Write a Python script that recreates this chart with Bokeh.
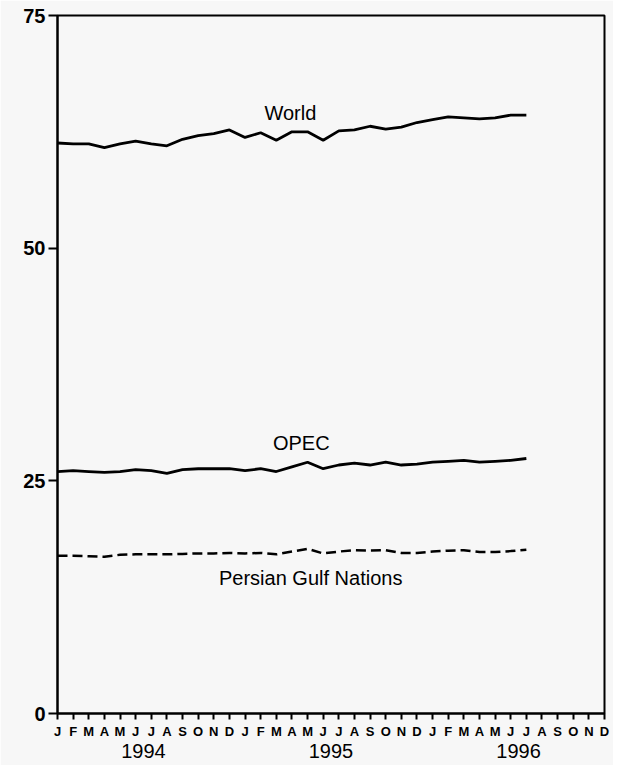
from bokeh.plotting import figure
from bokeh.models import FixedTicker, LinearAxis, Range1d, Label
from bokeh.embed import file_html
from bokeh.resources import INLINE

# Month index 0 = Jan 1994 ... 35 = Dec 1996
month_letters = ["J", "F", "M", "A", "M", "J", "J", "A", "S", "O", "N", "D"] * 3
years = ["1994", "1995", "1996"]
year_centers = [5.5, 17.5, 29.5]
y_ticks = [0, 25, 50, 75]

# Jan 1994 - Jul 1996 (31 months), million barrels per day
world = [61.3, 61.2, 61.2, 60.8, 61.2, 61.5, 61.2, 61.0, 61.7, 62.1, 62.3, 62.7,
         61.9, 62.4, 61.6, 62.5, 62.5, 61.6, 62.6, 62.7, 63.1, 62.8, 63.0, 63.5,
         63.8, 64.1, 64.0, 63.9, 64.0, 64.3, 64.3]
opec = [26.0, 26.1, 26.0, 25.9, 26.0, 26.2, 26.1, 25.8, 26.2, 26.3, 26.3, 26.3,
        26.1, 26.3, 26.0, 26.5, 27.0, 26.3, 26.7, 26.9, 26.7, 27.0, 26.7, 26.8,
        27.0, 27.1, 27.2, 27.0, 27.1, 27.2, 27.4]
gulf = [16.95, 16.95, 16.9, 16.85, 17.05, 17.1, 17.1, 17.1, 17.15, 17.2, 17.2, 17.25,
        17.2, 17.25, 17.1, 17.4, 17.7, 17.2, 17.4, 17.55, 17.5, 17.55, 17.25, 17.25,
        17.4, 17.5, 17.55, 17.35, 17.35, 17.45, 17.6]

series_labels = ["World", "OPEC", "Persian Gulf Nations"]
label_x = [14.9, 15.6, 16.2]
label_y = [64.5, 29.1, 14.6]

FONT = "Liberation Sans"
BG = "#f7f7f7"

p = figure(width=613, height=765, output_backend="svg", toolbar_location=None,
           x_range=Range1d(0, 35), y_range=Range1d(0, 75),
           min_border_left=57, min_border_right=9, min_border_top=15,
           min_border_bottom=52)
p.background_fill_color = BG
p.border_fill_color = BG
p.outline_line_color = "black"
p.outline_line_width = 2
p.xgrid.visible = False
p.ygrid.visible = False

xs = list(range(len(world)))
p.line(xs, world, line_color="black", line_width=2.8)
p.line(xs, opec, line_color="black", line_width=2.8)
p.line(xs, gulf, line_color="black", line_width=2.5, line_dash="10 5")

# y axis
p.yaxis.ticker = FixedTicker(ticks=y_ticks)
p.yaxis.minor_tick_line_color = None
p.yaxis.major_tick_in = 0
p.yaxis.major_tick_out = 9
p.yaxis.major_tick_line_width = 2
p.yaxis.axis_line_width = 2
p.yaxis.major_label_standoff = 3
p.yaxis.major_label_text_font = FONT
p.yaxis.major_label_text_font_size = "20px"
p.yaxis.major_label_text_font_style = "bold"
p.yaxis.major_label_text_color = "black"

# x axis (months)
p.xaxis.ticker = FixedTicker(ticks=list(range(36)))
p.xaxis.major_label_overrides = {i: m for i, m in enumerate(month_letters)}
p.xaxis.minor_tick_line_color = None
p.xaxis.major_tick_in = 0
p.xaxis.major_tick_out = 6
p.xaxis.major_tick_line_width = 2
p.xaxis.axis_line_width = 2
p.xaxis.major_label_standoff = 4
p.xaxis.major_label_text_font = FONT
p.xaxis.major_label_text_font_size = "13px"
p.xaxis.major_label_text_font_style = "bold"
p.xaxis.major_label_text_color = "black"

# year axis
yax = LinearAxis(ticker=FixedTicker(ticks=year_centers),
                 major_label_overrides={c: y for c, y in zip(year_centers, years)})
yax.axis_line_color = None
yax.major_tick_line_color = None
yax.minor_tick_line_color = None
yax.major_tick_out = 0
yax.major_tick_in = 0
yax.major_label_standoff = 2
yax.major_label_text_font = FONT
yax.major_label_text_font_size = "20px"
yax.major_label_text_color = "black"
p.add_layout(yax, "below")

for t, x, y in zip(series_labels, label_x, label_y):
    p.add_layout(Label(x=x, y=y, text=t, text_align="center", text_baseline="middle",
                       text_font=FONT, text_font_size="20px", text_color="black"))

open("out.html", "w").write(file_html(p, INLINE))
